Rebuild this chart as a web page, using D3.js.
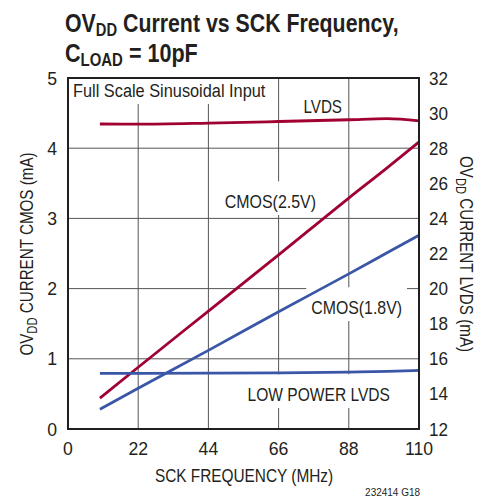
<!DOCTYPE html>
<html>
<head>
<meta charset="utf-8">
<script src="https://cdn.jsdelivr.net/npm/d3@7"></script>
<style>
  body { margin: 0; background: #fff; }
  text { font-family: "Liberation Sans", Arial, sans-serif; fill: #231f20; }
</style>
</head>
<body>
<div id="chart"></div>
<script>
// SCK frequency (MHz) sample points
const freq = [10, 22, 44, 66, 88, 100, 110];

// left axis series (mA)
const cmos25 = [0.44, 0.88, 1.68, 2.48, 3.29, 3.72, 4.09];
const cmos18 = [0.28, 0.58, 1.12, 1.67, 2.21, 2.51, 2.76];

// right axis series (mA)
const lvds = [29.38, 29.37, 29.43, 29.52, 29.62, 29.68, 29.56];
const lowPowerLvds = [15.17, 15.17, 15.18, 15.2, 15.24, 15.28, 15.34];

const xTicks = [0, 22, 44, 66, 88, 110];
const yLeftTicks = [0, 1, 2, 3, 4, 5];
const yRightTicks = [12, 14, 16, 18, 20, 22, 24, 26, 28, 30, 32];

const red = "#a00032";
const blue = "#3a56a6";

const w = 493, h = 498;
const pLeft = 68, pRight = 419, pTop = 78, pBottom = 429;

const svg = d3.select("#chart").append("svg")
  .attr("width", w).attr("height", h);

const x = d3.scaleLinear().domain([0, 110]).range([pLeft, pRight]);
const yL = d3.scaleLinear().domain([0, 5]).range([pBottom, pTop]);
const yR = d3.scaleLinear().domain([12, 32]).range([pBottom, pTop]);

// condensed look: squeeze text horizontally around its anchor point
function label(parent, str, px, py, size, anchor, sx, rot) {
  const g = parent.append("g")
    .attr("transform", `translate(${px},${py}) rotate(${rot || 0}) scale(${sx},1)`);
  const t = g.append("text").attr("text-anchor", anchor || "start")
    .style("font-size", size + "px");
  if (str) t.text(str);
  return t;
}
function sub(t, main, subTxt, rest, subSize, dy) {
  t.append("tspan").text(main);
  t.append("tspan").text(subTxt).attr("dy", dy).style("font-size", subSize + "px");
  t.append("tspan").text(rest).attr("dy", -dy);
}

// title
const t1 = label(svg, null, 65, 32, 26, "start", 0.82).style("font-weight", "bold");
sub(t1, "OV", "DD", " Current vs SCK Frequency,", 18, 4);
const t2 = label(svg, null, 65, 62, 26, "start", 0.83).style("font-weight", "bold");
sub(t2, "C", "LOAD", " = 10pF", 18, 4);

// grid
const grid = svg.append("g").attr("stroke", "#555").attr("stroke-width", 1);
grid.selectAll(".gx").data(xTicks.slice(1, -1)).enter().append("line")
  .attr("x1", d => x(d)).attr("x2", d => x(d))
  .attr("y1", pTop).attr("y2", pBottom);
grid.selectAll(".gy").data(yLeftTicks.slice(1, -1)).enter().append("line")
  .attr("x1", pLeft).attr("x2", pRight)
  .attr("y1", d => yL(d)).attr("y2", d => yL(d));

// labels inside plot, with white backing that breaks the grid
const labels = [
  { t: "Full Scale Sinusoidal Input", x: 73, y: 97, anchor: "start", sx: 0.86 },
  { t: "LVDS", x: 342, y: 113, anchor: "end", sx: 0.8 },
  { t: "CMOS(2.5V)", x: 316, y: 208, anchor: "end", sx: 0.84 },
  { t: "CMOS(1.8V)", x: 402, y: 314, anchor: "end", sx: 0.835 },
  { t: "LOW POWER LVDS", x: 390, y: 401, anchor: "end", sx: 0.82 }
];
const lg = svg.append("g");
labels.forEach(l => {
  const size = 19;
  const txt = label(lg, l.t, l.x, l.y, size, l.anchor, l.sx);
  const b = txt.node().getBBox();
  d3.select(txt.node().parentNode).insert("rect", "text")
    .attr("x", b.x - 6).attr("y", -0.72 * size - 13)
    .attr("width", b.width + 12).attr("height", 0.72 * size + 20).attr("fill", "#fff");
});

// series
const lineL = d3.line().x((d, i) => x(freq[i])).y(d => yL(d)).curve(d3.curveMonotoneX);
const lineR = d3.line().x((d, i) => x(freq[i])).y(d => yR(d)).curve(d3.curveMonotoneX);
const series = [
  { d: cmos25, gen: lineL, c: red },
  { d: cmos18, gen: lineL, c: blue },
  { d: lvds, gen: lineR, c: red },
  { d: lowPowerLvds, gen: lineR, c: blue }
];
svg.selectAll(".series").data(series).enter().append("path")
  .attr("d", s => s.gen(s.d))
  .attr("fill", "none").attr("stroke", s => s.c).attr("stroke-width", 2.8);

// frame
svg.append("rect").attr("x", pLeft).attr("y", pTop)
  .attr("width", pRight - pLeft).attr("height", pBottom - pTop)
  .attr("fill", "none").attr("stroke", "#231f20").attr("stroke-width", 2);

// tick labels
xTicks.forEach(d => label(svg, String(d), x(d), 455, 18, "middle", 0.98));
yLeftTicks.forEach(d => label(svg, String(d), 57, yL(d) + 6.5, 18, "end", 0.98));
yRightTicks.forEach(d => label(svg, String(d), 429, yR(d) + 6.5, 18, "start", 0.95));

// axis titles
label(svg, "SCK FREQUENCY (MHz)", 244, 482, 19, "middle", 0.81);

const yt = label(svg, null, 33, 254, 19, "middle", 0.8, -90);
sub(yt, "OV", "DD", " CURRENT CMOS (mA)", 14, 4);

const yt2 = label(svg, null, 460, 254, 19, "middle", 0.8, 90);
sub(yt2, "OV", "DD", " CURRENT LVDS (mA)", 14, 4);

label(svg, "232414 G18", 420, 496, 10.5, "end", 0.95);
</script>
</body>
</html>
